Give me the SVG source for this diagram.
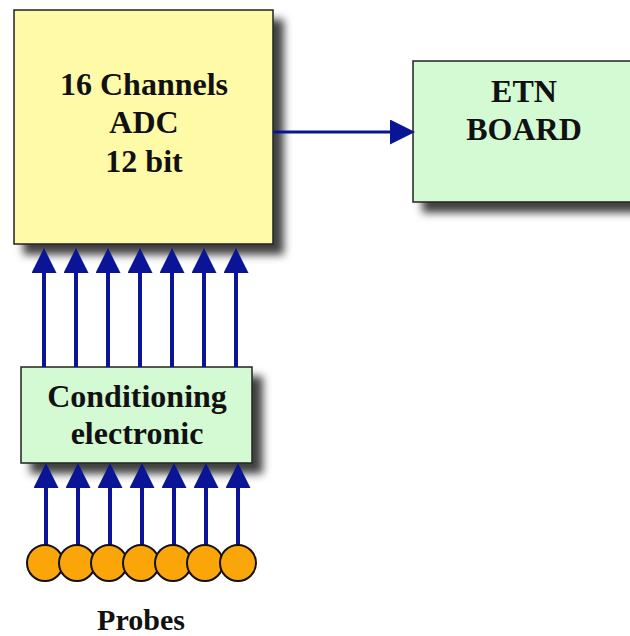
<svg xmlns="http://www.w3.org/2000/svg" width="630" height="636" viewBox="0 0 630 636">
  <defs>
    <filter id="shadow" x="-10%" y="-10%" width="130%" height="130%">
      <feDropShadow dx="10" dy="10" stdDeviation="4" flood-color="#000" flood-opacity="0.75"/>
    </filter>
    <marker id="head" markerUnits="userSpaceOnUse" markerWidth="25" markerHeight="25" refX="0" refY="12.5" orient="auto">
      <path d="M0,0 L25,12.5 L0,25 z" fill="#0a1596"/>
    </marker>
  </defs>
  <style>
    .box { stroke: #222; stroke-width: 1.5; }
    .adc { fill: #fffaa8; }
    .green { fill: #d4fad4; }
    .label { font-family: "Liberation Serif", "Times New Roman", serif; font-weight: bold; font-size: 32px; fill: #111; text-anchor: middle; }
    .wire { stroke: #0a1596; stroke-width: 4; fill: none; marker-end: url(#head); }
    .probe { fill: #fba608; stroke: #111; stroke-width: 2; }
  </style>

  <g id="adc">
    <rect class="box adc" x="14" y="10" width="259" height="234" filter="url(#shadow)"/>
    <text class="label" x="144" y="95">16 Channels</text>
    <text class="label" x="144" y="133">ADC</text>
    <text class="label" x="144" y="172">12 bit</text>
  </g>

  <g id="etn">
    <rect class="box green" x="413" y="61" width="220" height="141" filter="url(#shadow)"/>
    <text class="label" x="524" y="102">ETN</text>
    <text class="label" x="524" y="140">BOARD</text>
  </g>

  <g id="conditioning">
    <rect class="box green" x="21" y="367" width="231" height="96" filter="url(#shadow)"/>
    <text class="label" x="137" y="407">Conditioning</text>
    <text class="label" x="137" y="444">electronic</text>
  </g>

  <g id="connectors">
    <path class="wire" style="stroke-width:3" d="M273,132 H390"/>
    <!-- conditioning to ADC -->
    <path class="wire" d="M44,367 V273"/>
    <path class="wire" d="M76,367 V273"/>
    <path class="wire" d="M108,367 V273"/>
    <path class="wire" d="M140,367 V273"/>
    <path class="wire" d="M172,367 V273"/>
    <path class="wire" d="M204,367 V273"/>
    <path class="wire" d="M236,367 V273"/>
    <!-- probes to conditioning -->
    <path class="wire" d="M46,546 V488"/>
    <path class="wire" d="M78,546 V488"/>
    <path class="wire" d="M110,546 V488"/>
    <path class="wire" d="M142,546 V488"/>
    <path class="wire" d="M174,546 V488"/>
    <path class="wire" d="M206,546 V488"/>
    <path class="wire" d="M238,546 V488"/>
  </g>

  <g id="probes">
    <circle class="probe" cx="45" cy="563" r="18"/>
    <circle class="probe" cx="77" cy="563" r="18"/>
    <circle class="probe" cx="109" cy="563" r="18"/>
    <circle class="probe" cx="141" cy="563" r="18"/>
    <circle class="probe" cx="173" cy="563" r="18"/>
    <circle class="probe" cx="205" cy="563" r="18"/>
    <circle class="probe" cx="238" cy="563" r="18"/>
    <text class="label" style="font-size:30px" x="141" y="630">Probes</text>
  </g>
</svg>
